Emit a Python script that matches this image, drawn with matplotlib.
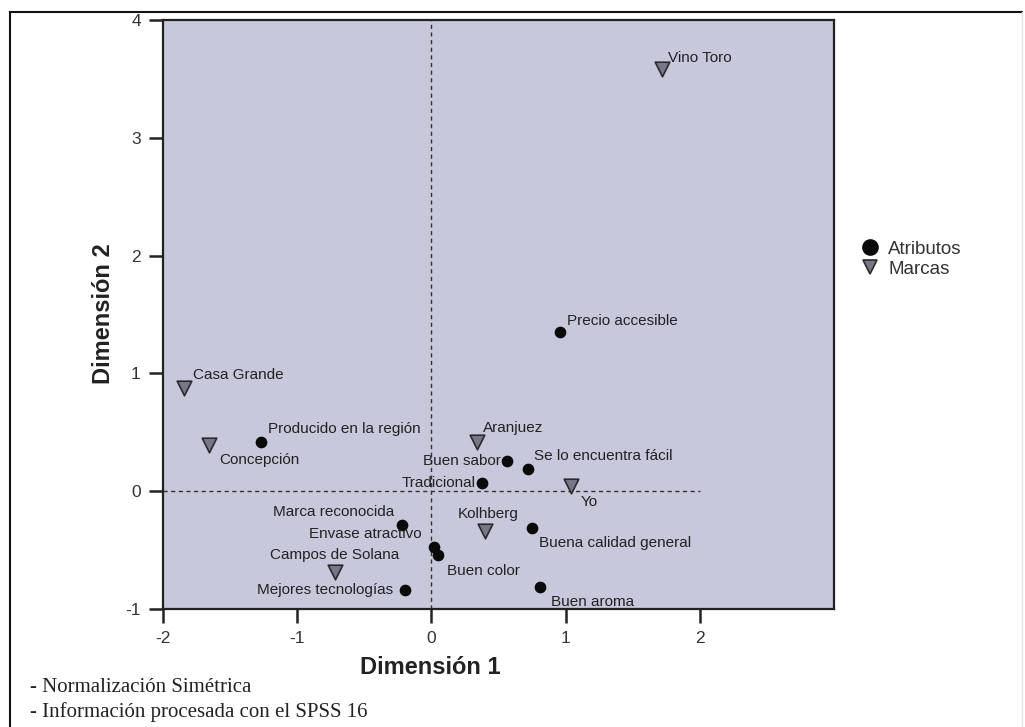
import matplotlib
matplotlib.use("Agg")
import matplotlib.pyplot as plt
from matplotlib.lines import Line2D

# ---- data ----
attr_names = ["Precio accesible", "Producido en la región", "Buen sabor", "Tradicional",
              "Se lo encuentra fácil", "Buena calidad general", "Marca reconocida",
              "Envase atractivo", "Buen color", "Mejores tecnologías", "Buen aroma"]
attr_x = [0.96, -1.27, 0.56, 0.38, 0.72, 0.75, -0.22, 0.02, 0.05, -0.20, 0.81]
attr_y = [1.35, 0.42, 0.26, 0.07, 0.19, -0.31, -0.29, -0.47, -0.54, -0.84, -0.81]

brand_names = ["Vino Toro", "Casa Grande", "Concepción", "Aranjuez", "Yo",
               "Kolhberg", "Campos de Solana"]
brand_x = [1.72, -1.84, -1.66, 0.34, 1.04, 0.40, -0.72]
brand_y = [3.58, 0.88, 0.39, 0.42, 0.04, -0.34, -0.69]

xticks = [-2, -1, 0, 1, 2]
yticks = [-1, 0, 1, 2, 3, 4]

# label offsets (pixels) and alignment
attr_off = {
    "Precio accesible": (7, 11, "left"),
    "Producido en la región": (7, 13, "left"),
    "Buen sabor": (-6, 0, "right"),
    "Tradicional": (-7, 0, "right"),
    "Se lo encuentra fácil": (6, 13, "left"),
    "Buena calidad general": (7, -15, "left"),
    "Marca reconocida": (-8, 13, "right"),
    "Envase atractivo": (-12, 13, "right"),
    "Buen color": (9, -16, "left"),
    "Mejores tecnologías": (-11, 0, "right"),
    "Buen aroma": (11, -15, "left"),
}
brand_off = {
    "Vino Toro": (6, 11, "left"),
    "Casa Grande": (9, 13, "left"),
    "Concepción": (11, -15, "left"),
    "Aranjuez": (6, 14, "left"),
    "Yo": (10, -16, "left"),
    "Kolhberg": (3, 17, "center"),
    "Campos de Solana": (0, 17, "center"),
}

W, H = 1025, 727
plt.rcParams['font.family'] = ['Liberation Sans', 'DejaVu Sans']
plt.rcParams['axes.unicode_minus'] = False
fig = plt.figure(figsize=(W / 100, H / 100), dpi=100)

# outer frame
fig.add_artist(Line2D([10 / W, 1022 / W], [1 - 12 / H, 1 - 12 / H], transform=fig.transFigure,
                      color='#111111', lw=1.5))
fig.add_artist(Line2D([10 / W, 10 / W], [1 - 12 / H, 0], transform=fig.transFigure,
                      color='#111111', lw=1.5))
fig.add_artist(Line2D([1022 / W, 1022 / W], [1 - 12 / H, 0], transform=fig.transFigure,
                      color='#e6e6e6', lw=1.0))

ax = fig.add_axes([163 / W, 1 - 609 / H, (834 - 163) / W, (609 - 20) / H])
ax.set_facecolor('#c8c8dc')
ax.set_xlim(-2, 3)
ax.set_ylim(-1, 4)
ax.set_xticks(xticks)
ax.set_yticks(yticks)
ax.tick_params(direction='out', length=10, width=1.8, color='#222222',
               labelsize=12.5, labelcolor='#333333', pad=6)
for s in ax.spines.values():
    s.set_linewidth(1.6)
    s.set_color('#222222')

# reference lines
ax.plot([0, 0], [-1, 4], ls=(0, (3, 2.5)), color='#333333', lw=1.0, zorder=1)
ax.plot([-2, 2], [0, 0], ls=(0, (3, 2.5)), color='#333333', lw=1.0, zorder=1)

ax.scatter(attr_x, attr_y, s=55, c='#0a0a0a', zorder=3)
ax.scatter(brand_x, brand_y, s=110, marker='v', c='#77778a', edgecolors='#2a2a2a',
           linewidths=1.2, zorder=3)

for n, x, y in zip(attr_names, attr_x, attr_y):
    dx, dy, ha = attr_off[n]
    ax.annotate(n, (x, y), xytext=(dx, dy), textcoords='offset pixels', ha=ha, va='center',
                fontsize=11, color='#222222', zorder=4)
for n, x, y in zip(brand_names, brand_x, brand_y):
    dx, dy, ha = brand_off[n]
    ax.annotate(n, (x, y), xytext=(dx, dy), textcoords='offset pixels', ha=ha, va='center',
                fontsize=11, color='#222222', zorder=4)

# axis titles
fig.text(430 / W, 1 - 668 / H, "Dimensión 1", ha='center', va='center', fontsize=17,
         fontweight='bold', color='#222222')
fig.text(103 / W, 1 - 314 / H, "Dimensión 2", ha='center', va='center', fontsize=17,
         fontweight='bold', color='#222222', rotation=90)

# legend
handles = [Line2D([], [], ls='none', marker='o', ms=11, mfc='#0a0a0a', mec='#0a0a0a'),
           Line2D([], [], ls='none', marker='v', ms=10, mfc='#77778a', mec='#2a2a2a', mew=1.2)]
fig.legend(handles, ["Atributos", "Marcas"], loc='center left',
           bbox_to_anchor=(861 / W, 1 - 259 / H), frameon=False, fontsize=13.5,
           handlelength=1.0, handletextpad=0.45, labelspacing=0.15, borderpad=0,
           borderaxespad=0, labelcolor='#333333')

# footnotes
fig.text(30 / W, 1 - 688 / H, "- Normalización Simétrica", ha='left', va='center',
         fontsize=15, family='Liberation Serif', color='#222222')
fig.text(30 / W, 1 - 712 / H, "- Información procesada con el SPSS 16", ha='left', va='center',
         fontsize=15, family='Liberation Serif', color='#222222')

fig.savefig("out.png", dpi=100)
